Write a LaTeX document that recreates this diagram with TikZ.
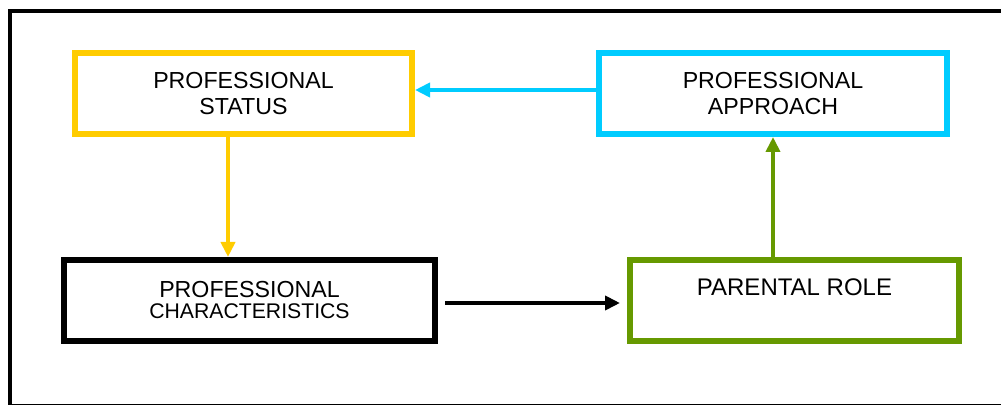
\documentclass[tikz,border=0pt]{standalone}
\usepackage{fontspec}
\setmainfont{Liberation Sans}
\usepackage{tikz}
\usetikzlibrary{arrows.meta,positioning}
\definecolor{pfyellow}{RGB}{255,204,0}
\definecolor{pfcyan}{RGB}{0,204,255}
\definecolor{pfgreen}{RGB}{102,153,0}
\tikzstyle{box} = [rectangle, line width=3pt, fill=white, minimum height=40.5pt, inner sep=0pt, align=center, font=\fontsize{11.6}{13}\selectfont]
\tikzstyle{arrow} = [line width=2pt, -{Triangle[length=7.5pt,width=7pt]}]

\begin{document}
\begin{tikzpicture}[x=0.5pt, y=-0.5pt]
    \clip (0,0) rectangle (1001,405);
    % Frame
    \draw[line width=2pt] (10,11) rectangle (1012,406);

    % Professional status
    \node[box, draw=pfyellow, minimum width=168.5pt] (status) at (243.5, 93.5) {PROFESSIONAL\\STATUS};

    % Professional approach
    \node[box, draw=pfcyan, minimum width=174pt] (approach) at (773, 93.5) {PROFESSIONAL\\APPROACH};

    % Professional characteristics
    \node[box, draw=black, minimum width=185.5pt] (chars) at (249.5, 300.5) {PROFESSIONAL\\[-2.5pt]{\fontsize{10.6}{11}\selectfont CHARACTERISTICS}};

    % Parental role
    \node[box, draw=pfgreen, minimum width=164.5pt] (role) at (794.5, 300.5) {};
    \node[font=\fontsize{12}{13}\selectfont] (roletext) at (794.5, 287.5) {PARENTAL ROLE};

    % Arrows
    \draw[arrow, pfcyan] ([yshift=1.75pt]approach.west) -- ([yshift=1.75pt]status.east);
    \draw[arrow, pfyellow] ([xshift=-7.75pt]status.south) -- ([xshift=-7.75pt]status.south |- chars.north);
    \draw[arrow] ([xshift=3.5pt,yshift=-1.25pt]chars.east) -- ([xshift=-3.5pt,yshift=-1.25pt]role.west);
    \draw[arrow, pfgreen] (approach.south |- role.north) -- (approach.south);
\end{tikzpicture}
\end{document}
